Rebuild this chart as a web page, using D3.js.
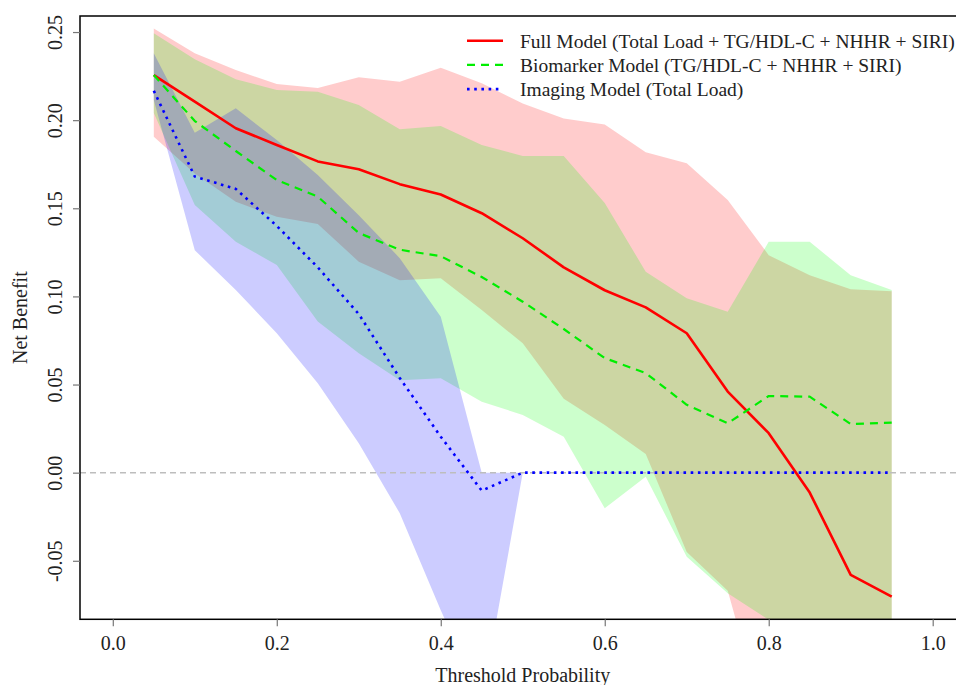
<!DOCTYPE html>
<html>
<head>
<meta charset="utf-8">
<script src="https://cdn.jsdelivr.net/npm/d3@7"></script>
<style>
  html, body { margin: 0; padding: 0; background: #fff; }
  svg { display: block; font-family: "Liberation Serif", "Times New Roman", serif; }
</style>
</head>
<body>
<div id="chart"></div>
<script>
// threshold probabilities
const thresholds = [0.05, 0.10, 0.15, 0.20, 0.25, 0.30, 0.35, 0.40, 0.45, 0.50,
  0.55, 0.60, 0.65, 0.70, 0.75, 0.80, 0.85, 0.90, 0.95];

// Full model (Total Load + TG/HDL-C + NHHR + SIRI)
const fullNB = [0.2256, 0.2105, 0.1954, 0.1859, 0.1766, 0.1722, 0.1637, 0.1578, 0.1472, 0.1330,
  0.1165, 0.1035, 0.0938, 0.0791, 0.0460, 0.0224, -0.0113, -0.0580, -0.0703];
const fullLo = [0.1906, 0.1698, 0.1537, 0.1452, 0.1411, 0.1197, 0.1092, 0.1103, 0.0923, 0.0734,
  0.0420, 0.0271, 0.0106, -0.0450, -0.0670, -0.1500, -0.1600, -0.1700, -0.1700];
const fullHi = [0.2520, 0.2379, 0.2284, 0.2205, 0.2182, 0.2243, 0.2218, 0.2297, 0.2209, 0.2095,
  0.2010, 0.1976, 0.1818, 0.1755, 0.1547, 0.1234, 0.1120, 0.1040, 0.1030];

// Biomarker model (TG/HDL-C + NHHR + SIRI)
const bioNB = [0.2256, 0.1995, 0.1825, 0.1660, 0.1566, 0.1360, 0.1265, 0.1228, 0.1110, 0.0970,
  0.0815, 0.0650, 0.0565, 0.0385, 0.0280, 0.0435, 0.0431, 0.0276, 0.0284];
const bioLo = [0.2040, 0.1518, 0.1310, 0.1178, 0.0857, 0.0677, 0.0525, 0.0535, 0.0403, 0.0327,
  0.0204, -0.0202, -0.0023, -0.0477, -0.0684, -0.0835, -0.1000, -0.1100, -0.1200];
const bioHi = [0.2493, 0.2345, 0.2232, 0.2171, 0.2161, 0.2086, 0.1948, 0.1967, 0.1859, 0.1797,
  0.1797, 0.1530, 0.1140, 0.0990, 0.0913, 0.1310, 0.1310, 0.1120, 0.1036];

// Imaging model (Total Load)
const imgNB = [0.2167, 0.1680, 0.1610, 0.1400, 0.1165, 0.0900, 0.0537, 0.0204, -0.0102, 0,
  0, 0, 0, 0, 0, 0, 0, 0, 0];
const imgLo = [0.2115, 0.1262, 0.1036, 0.0791, 0.0507, 0.0167, -0.0230, -0.0780, -0.1300, 0,
  0, 0, 0, 0, 0, 0, 0, 0, 0];
const imgHi = [0.2379, 0.1929, 0.2067, 0.1887, 0.1689, 0.1460, 0.1217, 0.0885, 0, 0,
  0, 0, 0, 0, 0, 0, 0, 0, 0];

const xTicks = [0, 0.2, 0.4, 0.6, 0.8, 1.0];
const yTicks = [-0.05, 0, 0.05, 0.10, 0.15, 0.20, 0.25];

const legendLabels = [
  'Full Model (Total Load + TG/HDL-C + NHHR + SIRI)',
  'Biomarker Model (TG/HDL-C + NHHR + SIRI)',
  'Imaging Model (Total Load)',
];

const W = 956, H = 685;
const plot = { left: 80, top: 16, right: 965.5, bottom: 619.3 };

const svg = d3.select('#chart')
  .append('svg')
  .attr('width', W)
  .attr('height', H);

const x = d3.scaleLinear().domain([-0.04, 1.04]).range([plot.left, plot.right]);
const y = d3.scaleLinear().domain([-0.0832, 0.2591]).range([plot.bottom, plot.top]);

// R style labels use a plain hyphen for negatives
const fmt = (spec) => (d) => d3.format(spec)(d).replace('\u2212', '-');

svg.append('clipPath')
  .attr('id', 'plot-clip')
  .append('rect')
  .attr('x', plot.left)
  .attr('y', plot.top)
  .attr('width', plot.right - plot.left)
  .attr('height', plot.bottom - plot.top);

const series = [
  { nb: fullNB, lo: fullLo, hi: fullHi, fill: 'rgba(255,0,0,0.2)', stroke: '#ff0000', width: 2.6, dash: null },
  { nb: bioNB, lo: bioLo, hi: bioHi, fill: 'rgba(0,255,0,0.2)', stroke: '#00ee00', width: 2.2, dash: '8,6' },
  { nb: imgNB, lo: imgLo, hi: imgHi, fill: 'rgba(0,0,255,0.2)', stroke: '#0000ff', width: 2.6, dash: '2.6,4.6' },
];

const gPlot = svg.append('g').attr('clip-path', 'url(#plot-clip)');

// confidence bands
const area = d3.area()
  .x((d) => x(d.t))
  .y0((d) => y(d.lo))
  .y1((d) => y(d.hi));

series.forEach((s) => {
  const rows = thresholds.map((t, i) => ({ t: t, lo: s.lo[i], hi: s.hi[i] }));
  gPlot.append('path')
    .attr('d', area(rows))
    .attr('fill', s.fill)
    .attr('stroke', 'none');
});

// reference line at zero
gPlot.append('line')
  .attr('x1', plot.left)
  .attr('x2', plot.right)
  .attr('y1', y(0))
  .attr('y2', y(0))
  .attr('stroke', '#bdbdbd')
  .attr('stroke-width', 1.5)
  .attr('stroke-dasharray', '6,4');

// net benefit curves
const line = d3.line()
  .x((d) => x(d.t))
  .y((d) => y(d.v));

series.forEach((s) => {
  const rows = thresholds.map((t, i) => ({ t: t, v: s.nb[i] }));
  gPlot.append('path')
    .attr('d', line(rows))
    .attr('fill', 'none')
    .attr('stroke', s.stroke)
    .attr('stroke-width', s.width)
    .attr('stroke-dasharray', s.dash)
    .attr('stroke-linejoin', 'round');
});

// frame
svg.append('rect')
  .attr('x', plot.left)
  .attr('y', plot.top)
  .attr('width', plot.right - plot.left)
  .attr('height', plot.bottom - plot.top)
  .attr('fill', 'none')
  .attr('stroke', '#000')
  .attr('stroke-width', 1.5);

// x axis
const xAxis = svg.append('g')
  .attr('transform', `translate(0,${plot.bottom})`)
  .call(d3.axisBottom(x).tickValues(xTicks).tickSize(7).tickFormat(fmt('.1f')));
xAxis.select('.domain').remove();
xAxis.selectAll('.tick line').attr('stroke', '#777').attr('stroke-width', 1.2);
xAxis.selectAll('.tick text')
  .attr('y', 30.7)
  .attr('dy', 0)
  .attr('fill', '#222')
  .style('font-size', '20px')
  .style('font-family', '"Liberation Serif", serif');

// y axis
const yAxis = svg.append('g')
  .attr('transform', `translate(${plot.left},0)`)
  .call(d3.axisLeft(y).tickValues(yTicks).tickSize(7).tickFormat(fmt('.2f')));
yAxis.select('.domain').remove();
yAxis.selectAll('.tick line').attr('stroke', '#777').attr('stroke-width', 1.2);
yAxis.selectAll('.tick text')
  .attr('x', 0)
  .attr('y', -18)
  .attr('dy', 0)
  .attr('text-anchor', 'middle')
  .attr('transform', 'rotate(-90)')
  .attr('fill', '#222')
  .style('font-size', '20px')
  .style('font-family', '"Liberation Serif", serif');

// axis titles
svg.append('text')
  .attr('x', (plot.left + plot.right) / 2)
  .attr('y', 682)
  .attr('text-anchor', 'middle')
  .attr('fill', '#222')
  .style('font-size', '20px')
  .text('Threshold Probability');

svg.append('text')
  .attr('transform', `translate(27,${(plot.top + plot.bottom) / 2}) rotate(-90)`)
  .attr('text-anchor', 'middle')
  .attr('fill', '#222')
  .style('font-size', '20px')
  .text('Net Benefit');

// legend
const legend = svg.append('g').attr('transform', 'translate(467,40.7)');
legendLabels.forEach((label, i) => {
  const s = series[i];
  const row = legend.append('g').attr('transform', `translate(0,${i * 24.2})`);
  row.append('line')
    .attr('x1', 0)
    .attr('x2', 36)
    .attr('stroke', s.stroke)
    .attr('stroke-width', s.width)
    .attr('stroke-dasharray', s.dash);
  row.append('text')
    .attr('x', 53)
    .attr('y', 6.8)
    .attr('fill', '#222')
    .style('font-size', '19.5px')
    .text(label);
});
</script>
</body>
</html>
